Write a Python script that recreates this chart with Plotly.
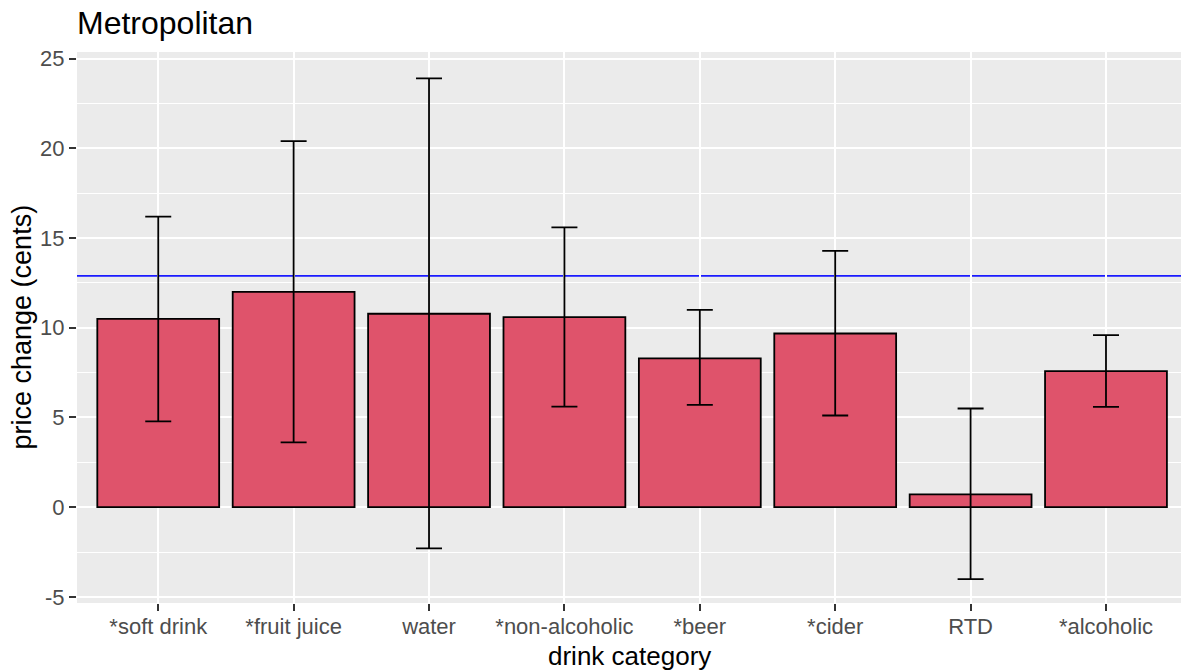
import plotly.graph_objects as go

categories = ["*soft drink", "*fruit juice", "water", "*non-alcoholic",
              "*beer", "*cider", "RTD", "*alcoholic"]
price_change = [10.50, 12.00, 10.78, 10.59, 8.29, 9.68, 0.71, 7.58]
ci_lower = [4.78, 3.61, -2.30, 5.61, 5.70, 5.11, -4.01, 5.59]
ci_upper = [16.20, 20.40, 23.90, 15.59, 11.00, 14.29, 5.50, 9.59]
overall_mean = 12.89
y_ticks = [-5, 0, 5, 10, 15, 20, 25]
y_tick_text = ["-5", "0", "5", "10", "15", "20", "25"]

err_plus = [u - v for u, v in zip(ci_upper, price_change)]
err_minus = [v - l for v, l in zip(price_change, ci_lower)]

FONT = "Liberation Sans, Arial, sans-serif"

fig = go.Figure()
fig.add_trace(go.Bar(
    x=list(range(len(categories))),
    y=price_change,
    width=0.9,
    marker=dict(color="#DF536B", line=dict(color="#000000", width=1.8)),
    error_y=dict(type="data", symmetric=False, array=err_plus, arrayminus=err_minus,
                 color="#000000", thickness=1.8, width=13),
    showlegend=False,
    hoverinfo="skip",
))

fig.add_hline(y=overall_mean, line=dict(color="#1A1AFF", width=1.8), layer="below")

fig.update_layout(
    width=1181, height=671,
    margin=dict(l=77, r=0, t=52, b=68, autoexpand=False),
    paper_bgcolor="#FFFFFF",
    plot_bgcolor="#EBEBEB",
    font=dict(family=FONT, color="#000000"),
    title=dict(text="Metropolitan", x=77 / 1181, xanchor="left", xref="container",
               y=1 - 23.2 / 671, yanchor="middle", yref="container",
               font=dict(size=32, color="#000000", family=FONT)),
    bargap=0.1,
)

fig.update_xaxes(
    range=[-0.6, 7.554],
    automargin=False,
    tickmode="array",
    tickvals=list(range(len(categories))),
    ticktext=categories,
    showgrid=True, gridcolor="#FFFFFF", gridwidth=1.8,
    zeroline=False, showline=False,
    ticks="outside", ticklen=7, tickwidth=1.5, tickcolor="#333333",
    ticklabelstandoff=-3,
    tickfont=dict(size=22, color="#4D4D4D", family=FONT),
)

fig.update_yaxes(
    range=[-5.34, 25.37],
    automargin=False,
    tickmode="array",
    tickvals=y_ticks,
    ticktext=y_tick_text,
    showgrid=True, gridcolor="#FFFFFF", gridwidth=1.8,
    minor=dict(tickmode="array", tickvals=[-2.5, 2.5, 7.5, 12.5, 17.5, 22.5],
               showgrid=True, gridcolor="#FFFFFF", gridwidth=1.0, ticks=""),
    zeroline=False, showline=False,
    ticks="outside", ticklen=7, tickwidth=1.5, tickcolor="#333333",
    tickfont=dict(size=22, color="#4D4D4D", family=FONT),
)

fig.add_annotation(text="drink category", xref="paper", yref="paper",
                   x=0.5, y=0, yshift=-53, xanchor="center", yanchor="middle",
                   showarrow=False, font=dict(size=26, color="#000000", family=FONT))
fig.add_annotation(text="price change (cents)", xref="paper", yref="paper",
                   x=(21 - 77) / 1104, y=0.5, xanchor="center", yanchor="middle",
                   textangle=-90, showarrow=False,
                   font=dict(size=27, color="#000000", family=FONT))

fig.write_html("out.html", config={"displayModeBar": False},
               post_script="document.body.style.margin='0';document.body.style.overflow='hidden';")
